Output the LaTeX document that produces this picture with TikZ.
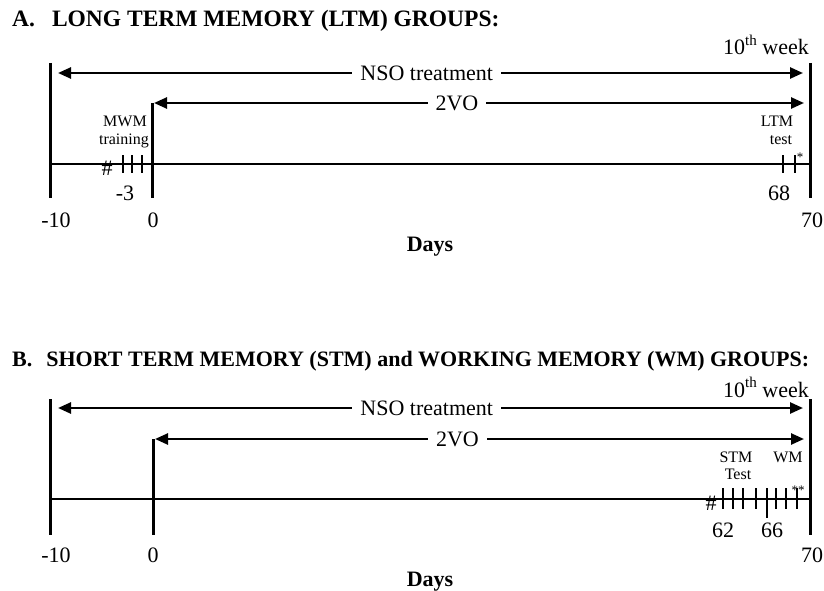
\documentclass[tikz,border=0pt]{standalone}
\usepackage{fontspec}
\setmainfont{Liberation Serif}
\usetikzlibrary{arrows.meta,positioning,calc}

\newcommand{\supth}[1]{\raisebox{0.42em}{\fontsize{15}{15}\selectfont #1}}

\begin{document}
\begin{tikzpicture}[x=1pt,y=-1pt,
	thickbar/.style={line width=3pt},
	arr/.style={{Triangle[length=13pt,width=11pt]}-{Triangle[length=13pt,width=11pt]}, line width=2.5pt},
	axis/.style={line width=1.4pt},
	tickmark/.style={line width=1.8pt},
	big/.style={font=\fontsize{22}{26}\selectfont, inner sep=0pt},
	small/.style={font=\fontsize{16}{17}\selectfont, inner sep=0pt},
	star/.style={font=\fontsize{13}{13}\selectfont, inner sep=0pt},
	ttl/.style={font=\fontsize{22}{26}\selectfont\bfseries, anchor=base west, inner sep=0pt},
	gap/.style={fill=white, inner xsep=8pt, inner ysep=1pt}]
	
	\useasboundingbox (0,0) rectangle (824,591);
	
	% ===== A. LTM groups =====
	\node[ttl, font=\fontsize{23.5}{27}\selectfont\bfseries] (titleA) at (12,27) {A.\hspace{17pt}LONG TERM MEMORY (LTM) GROUPS:};
	\node[big, anchor=base east] (weekA) at (809,55) {10\supth{th} week};
	
	% Day bars
	\coordinate (aLtop) at (50,63);   \coordinate (aLbot) at (50,198);
	\coordinate (aRtop) at (810,63);  \coordinate (aRbot) at (810,198);
	\coordinate (aZtop) at (152,103); \coordinate (aZbot) at (152,198);
	\draw[thickbar] (aLtop) -- (aLbot);
	\draw[thickbar] (aRtop) -- (aRbot);
	\draw[thickbar] (aZtop) -- (aZbot);
	
	% Time line
	\coordinate (aStart) at (50,164); \coordinate (aEnd) at (810,164);
	\draw[axis] (aStart) -- (aEnd);
	
	% Treatment arrows
	\coordinate (aNso1) at (58,73);  \coordinate (aNso2) at (803,73);
	\draw[arr] (aNso1) -- (aNso2) node[big, gap, pos=0.495] (nsoA) {NSO treatment};
	\coordinate (aVo1) at (154,103); \coordinate (aVo2) at (804,103);
	\draw[arr] (aVo1) -- (aVo2) node[big, gap, pos=0.466] (voA) {2VO};
	
	% MWM training days
	\foreach \x in {123,132,142} {
		\draw[tickmark] (\x,155) -- (\x,173);
	}
	\node[big] (hashA) at (107,168) {\#};
	\node[small, anchor=base] (mwm) at (125,127) {MWM};
	\node[small, anchor=base] (train) at (124,144) {training};
	\node[big, anchor=base] (dm3) at (125,200) {-3};
	
	% LTM test days
	\foreach \x in {783,795} {
		\draw[tickmark] (\x,155) -- (\x,173);
	}
	\node[star] (starA) at (800,157) {*};
	\node[small, anchor=base] (ltm) at (777,127) {LTM};
	\node[small, anchor=base] (testA) at (781,144) {test};
	\node[big, anchor=base] (d68) at (779,200) {68};
	
	% Axis labels
	\node[big, anchor=base] (aM10) at (56,227) {-10};
	\node[big, anchor=base] (aD0) at (153,227) {0};
	\node[big, anchor=base] (aD70) at (812,227) {70};
	\node[big, font=\fontsize{22}{26}\selectfont\bfseries, anchor=base] (daysA) at (430,251) {Days};
	
	% ===== B. STM and WM groups =====
	\node[ttl] (titleB) at (12,366) {B.\hspace{14pt}SHORT TERM MEMORY (STM) and WORKING MEMORY (WM) GROUPS:};
	\node[big, anchor=base east] (weekB) at (809,397) {10\supth{th} week};
	
	% Day bars
	\coordinate (bLtop) at (50,399);  \coordinate (bLbot) at (50,535);
	\coordinate (bRtop) at (810,399); \coordinate (bRbot) at (810,535);
	\coordinate (bZtop) at (153,439); \coordinate (bZbot) at (153,535);
	\draw[thickbar] (bLtop) -- (bLbot);
	\draw[thickbar] (bRtop) -- (bRbot);
	\draw[thickbar] (bZtop) -- (bZbot);
	
	% Time line
	\coordinate (bStart) at (50,499); \coordinate (bEnd) at (810,499);
	\draw[axis] (bStart) -- (bEnd);
	
	% Treatment arrows
	\coordinate (bNso1) at (58,408);  \coordinate (bNso2) at (803,408);
	\draw[arr] (bNso1) -- (bNso2) node[big, gap, pos=0.495] (nsoB) {NSO treatment};
	\coordinate (bVo1) at (155,439);  \coordinate (bVo2) at (804,439);
	\draw[arr] (bVo1) -- (bVo2) node[big, gap, pos=0.466] (voB) {2VO};
	
	% STM and WM test days
	\foreach \x in {723,733,743,756,776,786,797} {
		\draw[tickmark] (\x,488) -- (\x,509);
	}
	\draw[tickmark] (767,488) -- (767,518);
	\node[big] (hashB) at (711,503) {\#};
	\node[star] (starB) at (798,490) {**};
	\node[small, anchor=base] (stm) at (736,462) {STM};
	\node[small, anchor=base] (testB) at (738,479) {Test};
	\node[small, anchor=base] (wm) at (788,462) {WM};
	\node[big, anchor=base] (d62) at (723,537) {62};
	\node[big, anchor=base] (d66) at (772,537) {66};
	
	% Axis labels
	\node[big, anchor=base] (bM10) at (56,562) {-10};
	\node[big, anchor=base] (bD0) at (153,562) {0};
	\node[big, anchor=base] (bD70) at (812,562) {70};
	\node[big, font=\fontsize{22}{26}\selectfont\bfseries, anchor=base] (daysB) at (430,586) {Days};
\end{tikzpicture}
\end{document}
